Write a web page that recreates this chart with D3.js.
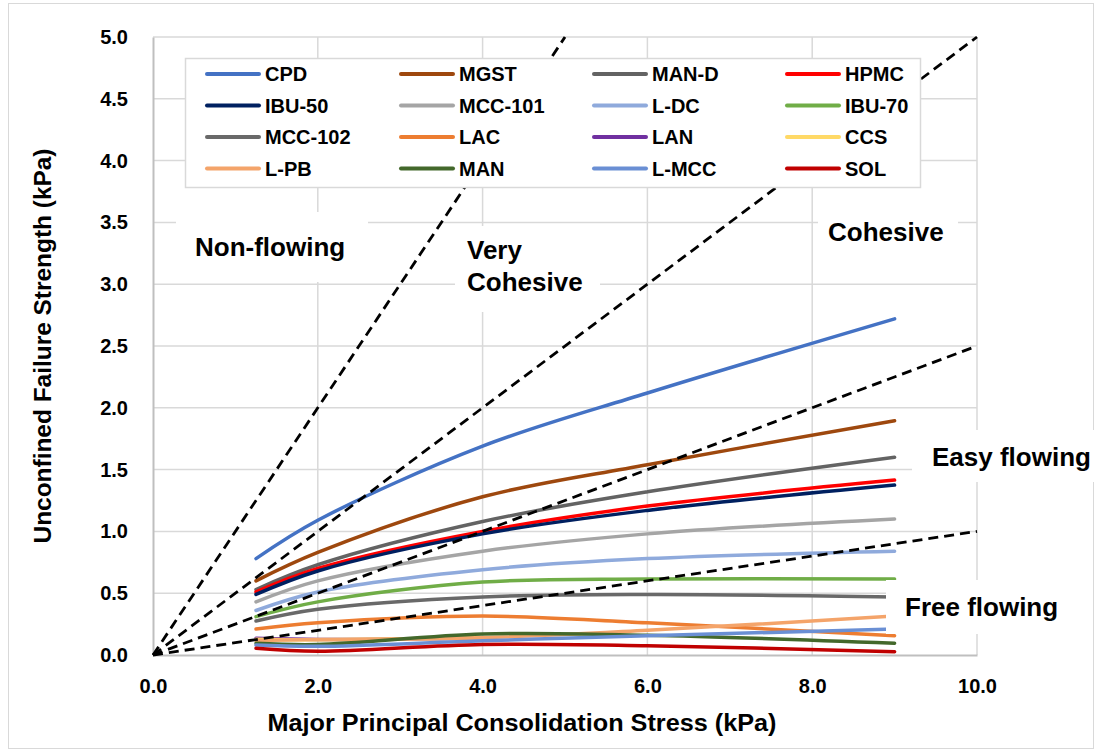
<!DOCTYPE html>
<html>
<head>
<meta charset="utf-8">
<script src="https://cdn.jsdelivr.net/npm/d3@7"></script>
<style>
  html, body { margin: 0; padding: 0; background: #fff; }
  svg text { font-family: "Liberation Sans", Arial, sans-serif; font-weight: bold; fill: #000; }
</style>
</head>
<body>
<svg id="chart" width="1099" height="753"></svg>
<script>
// Consolidation stress levels (kPa) at which the flow function was measured
const stress = [1.25, 2, 4, 6, 9];
const stressShort = [1.25, 2, 4];

// Unconfined failure strength (kPa) for each material
const names = ["CPD", "MGST", "MAN-D", "HPMC", "IBU-50", "MCC-101", "L-DC", "IBU-70",
               "MCC-102", "LAC", "LAN", "CCS", "L-PB", "MAN", "L-MCC", "SOL"];
const cpd    = [0.78, 1.09, 1.69, 2.12, 2.72];
const mgst   = [0.60, 0.83, 1.28, 1.54, 1.895];
const manD   = [0.53, 0.73, 1.08, 1.32, 1.60];
const hpmc   = [0.51, 0.70, 1.00, 1.205, 1.415];
const ibu50  = [0.49, 0.68, 0.98, 1.17, 1.375];
const mcc101 = [0.43, 0.60, 0.84, 0.98, 1.10];
const lDc    = [0.36, 0.51, 0.69, 0.78, 0.84];
const ibu70  = [0.31, 0.43, 0.59, 0.615, 0.615];
const mcc102 = [0.275, 0.37, 0.47, 0.49, 0.47];
const lac    = [0.21, 0.26, 0.315, 0.26, 0.156];
const lan    = [0.135, 0.125, 0.14];
const ccs    = [0.128, 0.124, 0.14];
const lPb    = [0.118, 0.125, 0.14, 0.20, 0.315];
const man    = [0.095, 0.085, 0.17, 0.16, 0.095];
const lMcc   = [0.08, 0.07, 0.115, 0.155, 0.21];
const sol    = [0.055, 0.03, 0.085, 0.075, 0.027];

const colors = ["#4472C4", "#9E480E", "#636363", "#FF0000", "#002060", "#A5A5A5", "#8FAADC", "#70AD47",
                "#696969", "#ED7D31", "#7030A0", "#FFD966", "#F4A46A", "#43682B", "#6A8FD4", "#C00000"];

// Flowability boundaries: ffc = sigma1 / sigma_c  ->  sigma_c = sigma1 / ffc
const ffcLimits = [1, 2, 4, 10];

// Axis ticks
const xTicks = [0, 2, 4, 6, 8, 10];
const yTicks = [0, 0.5, 1, 1.5, 2, 2.5, 3, 3.5, 4, 4.5, 5];

const seriesValues = [cpd, mgst, manD, hpmc, ibu50, mcc101, lDc, ibu70, mcc102, lac, lan, ccs, lPb, man, lMcc, sol];
const series = names.map((n, i) => {
  const ys = seriesValues[i];
  const xs = ys.length === stress.length ? stress : stressShort;
  return { name: n, color: colors[i], points: ys.map((v, j) => [xs[j], v]) };
});

const svg = d3.select("#chart");
const x = d3.scaleLinear().domain([0, 10]).range([153, 977]);
const y = d3.scaleLinear().domain([0, 5]).range([655, 37]);

// Outer chart border
svg.append("rect").attr("x", 8.5).attr("y", 3.5).attr("width", 1085).attr("height", 745)
  .attr("fill", "#fff").attr("stroke", "#d9d9d9").attr("stroke-width", 1);

// Gridlines
const grid = svg.append("g");
grid.selectAll("line.h").data(yTicks.slice(1)).join("line")
  .attr("x1", x(0)).attr("x2", x(10)).attr("y1", d => y(d)).attr("y2", d => y(d))
  .attr("stroke", "#d9d9d9").attr("stroke-width", 1.5);
grid.selectAll("line.v").data(xTicks.slice(1)).join("line")
  .attr("y1", y(0)).attr("y2", y(5)).attr("x1", d => x(d)).attr("x2", d => x(d))
  .attr("stroke", "#d9d9d9").attr("stroke-width", 1.5);

// Axes
const xAxis = d3.axisBottom(x).tickValues(xTicks).tickFormat(d3.format(".1f")).tickSize(0).tickPadding(24);
const yAxis = d3.axisLeft(y).tickValues(yTicks).tickFormat(d3.format(".1f")).tickSize(0).tickPadding(25);
const gx = svg.append("g").attr("transform", `translate(0,${y(0)})`).call(xAxis);
const gy = svg.append("g").attr("transform", `translate(${x(0)},0)`).call(yAxis);
[gx, gy].forEach(g => {
  g.select(".domain").attr("stroke", "#bfbfbf").attr("stroke-width", 2);
  g.selectAll("text").style("font-size", "20px").style("font-family", "'Liberation Sans', Arial, sans-serif")
    .style("font-weight", "bold").attr("fill", "#000");
});

// Flow function curves
const line = d3.line().x(d => x(d[0])).y(d => y(d[1])).curve(d3.curveCatmullRom.alpha(0.5));
svg.append("g").selectAll("path").data(series).join("path")
  .attr("d", d => line(d.points)).attr("fill", "none")
  .attr("stroke", d => d.color).attr("stroke-width", 3.5).attr("stroke-linecap", "round");

// Flowability boundary lines, clipped to the plot area
const bound = svg.append("g");
bound.selectAll("line").data(ffcLimits).join("line")
  .attr("x1", x(0)).attr("y1", y(0))
  .attr("x2", d => x(Math.min(10, 5 * d)))
  .attr("y2", d => y(Math.min(10, 5 * d) / d))
  .attr("stroke", "#000").attr("stroke-width", 2.8).attr("stroke-dasharray", "10,6");

// Region labels on white boxes
const regions = [
  { lines: ["Non-flowing"], box: [176, 212, 192, 70], tx: 195, ty: [256] },
  { lines: ["Very", "Cohesive"], box: [455, 226, 145, 86], tx: 467, ty: [259, 291] },
  { lines: ["Cohesive"], box: [818, 210, 140, 46], tx: 828, ty: [241] },
  { lines: ["Easy flowing"], box: [912, 430, 183, 52], tx: 932, ty: [466] },
  { lines: ["Free flowing"], box: [886, 580, 205, 54], tx: 905, ty: [616] }
];
const rg = svg.append("g");
regions.forEach(r => {
  rg.append("rect").attr("x", r.box[0]).attr("y", r.box[1]).attr("width", r.box[2]).attr("height", r.box[3])
    .attr("fill", "#fff");
  r.lines.forEach((t, i) => {
    rg.append("text").attr("x", r.tx).attr("y", r.ty[i]).style("font-size", "26px").text(t);
  });
});

// Legend
const legend = svg.append("g");
legend.append("rect").attr("x", 185.5).attr("y", 58.5).attr("width", 735).attr("height", 129)
  .attr("fill", "#fff").attr("stroke", "#d9d9d9").attr("stroke-width", 1.5);
const colX = [207, 401, 594, 787];
const rowY = [74, 105.5, 137, 168.5];
series.forEach((s, i) => {
  const cx = colX[i % 4], cy = rowY[Math.floor(i / 4)];
  legend.append("line").attr("x1", cx).attr("x2", cx + 52).attr("y1", cy).attr("y2", cy)
    .attr("stroke", s.color).attr("stroke-width", 4).attr("stroke-linecap", "round");
  legend.append("text").attr("x", cx + 58).attr("y", cy).attr("dy", "0.35em")
    .style("font-size", "20px").text(s.name);
});

// Axis titles
svg.append("text").attr("x", 522).attr("y", 731).attr("text-anchor", "middle")
  .style("font-size", "23px").attr("textLength", 509).attr("lengthAdjust", "spacingAndGlyphs")
  .text("Major Principal Consolidation Stress (kPa)");
svg.append("text").attr("transform", "translate(51,346) rotate(-90)").attr("text-anchor", "middle")
  .style("font-size", "23px").attr("textLength", 395).attr("lengthAdjust", "spacingAndGlyphs")
  .text("Unconfined Failure Strength (kPa)");
</script>
</body>
</html>
